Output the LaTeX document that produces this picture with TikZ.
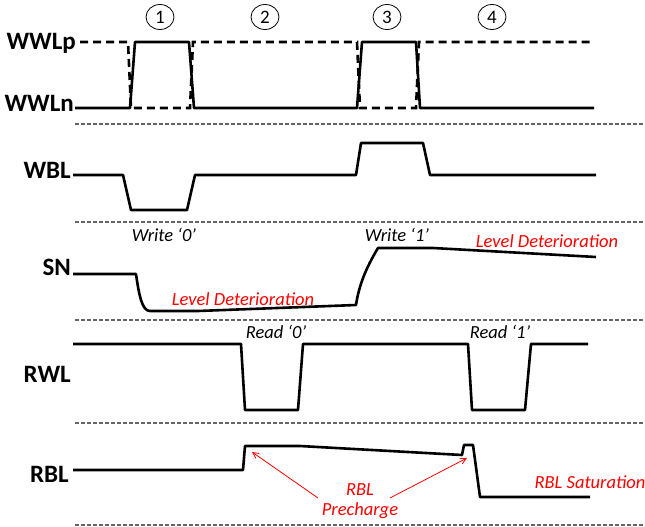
\documentclass[tikz,border=0pt]{standalone}
\usepackage{fontspec}
\setmainfont{Carlito}
\usetikzlibrary{arrows.meta,shapes.geometric}
\begin{document}
\begin{tikzpicture}[x=1pt,y=-1pt,
  sig/.style={line width=2.6pt, line join=round},
  sigdash/.style={line width=2.6pt, dash pattern=on 8pt off 5pt},
  sepline/.style={draw=black!60, line width=1.3pt, dash pattern=on 3.5pt off 2.5pt},
  lbl/.style={font=\fontsize{25}{25}\selectfont\bfseries, anchor=base east, inner sep=0pt},
  note/.style={font=\fontsize{18.5}{18.5}\selectfont\itshape, anchor=base, inner sep=0pt},
  rednote/.style={note, text=red},
  num/.style={draw, ellipse, line width=0.8pt, minimum width=28pt, minimum height=25pt, inner sep=0pt, font=\fontsize{19}{19}\selectfont},
  redarrow/.style={draw=red, line width=0.8pt, -{Straight Barb[length=6pt, width=6pt]}}]
\useasboundingbox (0,0) rectangle (645,527);

% separators
\foreach \yy in {124,222,320,423,525}
  \draw[sepline] (75,\yy) -- (645,\yy);

% circled numbers
\node[num] (n1) at (160,17) {1};
\node[num] (n2) at (265,17) {2};
\node[num] (n3) at (387,17) {3};
\node[num] (n4) at (492,17) {4};

% labels
\node[lbl] (lwwlp) at (76,49) {WWLp};
\node[lbl] (lwwln) at (74,111) {WWLn};
\node[lbl] (lwbl) at (71,178) {WBL};
\node[lbl] (lsn) at (71,275) {SN};
\node[lbl] (lrwl) at (71,382) {RWL};
\node[lbl] (lrbl) at (69,482) {RBL};

% WWLp (dashed)
\draw[sigdash] (80,42) -- (128,42) -- (131,108) -- (190,108) -- (193,42) -- (357,42) -- (360,108) -- (416,108) -- (419,42) -- (594,42);
% WWLn (solid)
\draw[sig] (75,108) -- (130,108) -- (135,42) -- (189,42) -- (194,108) -- (357,108) -- (362,42) -- (416,42) -- (420,108) -- (594,108);

% WBL
\draw[sig] (73,175) -- (123,175) -- (131,210) -- (187,210) -- (195,175) -- (356,175) -- (361,143) -- (423,143) -- (430,175) -- (596,175);

% SN
\draw[sig] (73,274) -- (136,274) .. controls (139,295) and (142,311) .. (150,311) -- (198,311) -- (356,305)
  .. controls (359,285) and (366,268) .. (378,248) -- (433,248) -- (596,257);

% RWL
\draw[sig] (73,344) -- (241,344) -- (245,410) -- (298,410) -- (303,344) -- (468,344) -- (472,410) -- (525,410) -- (531,344) -- (588,344);

% RBL
\draw[sig] (73,470) -- (243,470) -- (245,446) -- (300,446) -- (462,455) -- (464,445) -- (473,445) -- (480,497) -- (590,497);

% notes
\node[note] (w0) at (164,241) {Write ‘0’};
\node[rednote] (ld1) at (243,305) {Level Deterioration};
\node[note] (w1) at (397,241) {Write ‘1’};
\node[rednote] (ld2) at (547,247) {Level Deterioration};
\node[note] (r0) at (276,338) {Read ‘0’};
\node[note] (r1) at (500,338) {Read ‘1’};
\node[rednote] (prc1) at (360,495) {RBL};
\node[rednote] (prc2) at (360,515) {Precharge};
\node[rednote] (sat) at (590,488) {RBL Saturation};

% red arrows
\coordinate (a1s) at (318,498);
\coordinate (a1e) at (252,452);
\coordinate (a2s) at (390,498);
\coordinate (a2e) at (467,458);
\draw[redarrow] (a1s) -- (a1e);
\draw[redarrow] (a2s) -- (a2e);
\end{tikzpicture}
\end{document}
